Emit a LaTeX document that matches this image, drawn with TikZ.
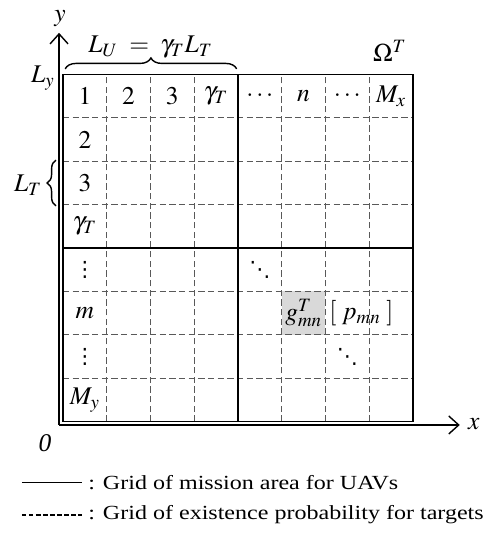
\documentclass[tikz,border=0pt]{standalone}
\usepackage{mathptmx}
\usepackage{fontspec}
\setmainfont{Liberation Serif}
\newfontfamily\dotsfont{DejaVu Sans}
\usetikzlibrary{arrows.meta, decorations.pathreplacing, positioning}

\begin{document}
\begin{tikzpicture}[
      x=0.875cm, y=0.868cm,
      solidline/.style={line width=0.8pt},
      dashline/.style={line width=0.5pt, gray!70!black, dash pattern=on 3.6pt off 1.9pt},
      axis/.style={-{Straight Barb[length=2mm, width=3.6mm]}, line width=0.8pt},
      cell/.style={font=\fontsize{14.5}{16}\selectfont, inner sep=0pt},
      dots/.style={font=\dotsfont\fontsize{12}{13}\selectfont, inner sep=0pt},
      lbl/.style={font=\fontsize{14.5}{16}\selectfont, inner sep=0pt},
      legend/.style={font=\fontsize{11.4}{13}\selectfont, anchor=west, inner sep=0pt},
      curly/.style={decorate, line width=0.8pt}
    ]
    \useasboundingbox (-1.44,-2.588) rectangle (9.6,9.717);

    % target cell g_mn
    \fill[gray!30] (5,2) rectangle (6,3);

    % grid of existence probability
    \foreach \i in {1,2,3,5,6,7} {
      \draw[dashline] (\i,0) -- (\i,8);
      \draw[dashline] (0,\i) -- (8,\i);
    }

    % grid of mission area
    \draw[solidline] (0,0) rectangle (8,8);
    \draw[solidline] (4,0) -- (4,8);
    \draw[solidline] (0,4) -- (8,4);

    % axes
    \coordinate (o) at (-0.09,-0.076);
    \coordinate (xend) at (9.07,-0.076);
    \coordinate (yend) at (-0.09,8.96);
    \draw[axis] (o) -- (xend);
    \draw[axis] (o) -- (yend);
    \node[lbl] (xlab) at (9.39,-0.05) {$x$};
    \node[lbl] (ylab) at (-0.07,9.3) {$y$};
    \node[lbl] (zero) at (-0.41,-0.49) {\textit{0}};
    \node[lbl] (ly) at (-0.46,7.92) {$L_y$};
    \node[lbl] (omega) at (7.47,8.55) {$\Omega^T$};

    % cell indices
    \foreach \t [count=\c] in {1,2,3,\gamma_T,\cdots,n,\cdots,M_x}
      \node[cell] (col\c) at (\c-0.5,7.5) {$\t$};
    \foreach \t [count=\r from 2] in {2,3,\gamma_T}
      \node[cell] (row\r) at (0.5,8.5-\r) {$\t$};
    \node[dots] (row5) at (0.5,3.5) {⋮};
    \node[cell] (row6) at (0.5,2.5) {$m$};
    \node[dots] (row7) at (0.5,1.5) {⋮};
    \node[cell] (row8) at (0.5,0.5) {$M_y$};
    \node[dots] (dd1) at (4.5,3.5) {⋱};
    \node[dots] (dd2) at (6.5,1.5) {⋱};
    \node[cell] (gmn) at (5.5,2.5) {$g_{mn}^{T}$};
    \node[cell, anchor=west] (pmn) at (6.08,2.5) {$[\;p_{mn}\;]$};

    % braces
    \coordinate (bl) at (0.05,8.13);
    \coordinate (br) at (3.97,8.13);
    \draw[curly, decoration={brace, amplitude=6.2pt}] (bl) -- (br);
    \node[lbl] (lu) at (2.0,8.62) {$L_U\;=\;\gamma_T L_T$};
    \coordinate (lb) at (-0.16,4.97);
    \coordinate (lt) at (-0.16,6.03);
    \draw[curly, decoration={brace, amplitude=5pt}] (lb) -- (lt);
    \node[lbl] (lt-lab) at (-0.8,5.45) {$L_T$};

    % legend
    \coordinate (s1) at (-0.94,-1.41);
    \coordinate (s2) at (0.43,-1.41);
    \draw[line width=0.6pt] (s1) -- (s2);
    \node[legend] (leg1) at (0.57,-1.41) {\scalebox{1.2}[1]{: Grid of mission area for UAVs}};
    \coordinate (d1) at (-0.94,-2.15);
    \coordinate (d2) at (0.43,-2.15);
    \draw[line width=0.6pt, dash pattern=on 2.6pt off 1.4pt] (d1) -- (d2);
    \node[legend] (leg2) at (0.57,-2.15) {\scalebox{1.2}[1]{: Grid of existence probability for targets}};
\end{tikzpicture}
\end{document}
